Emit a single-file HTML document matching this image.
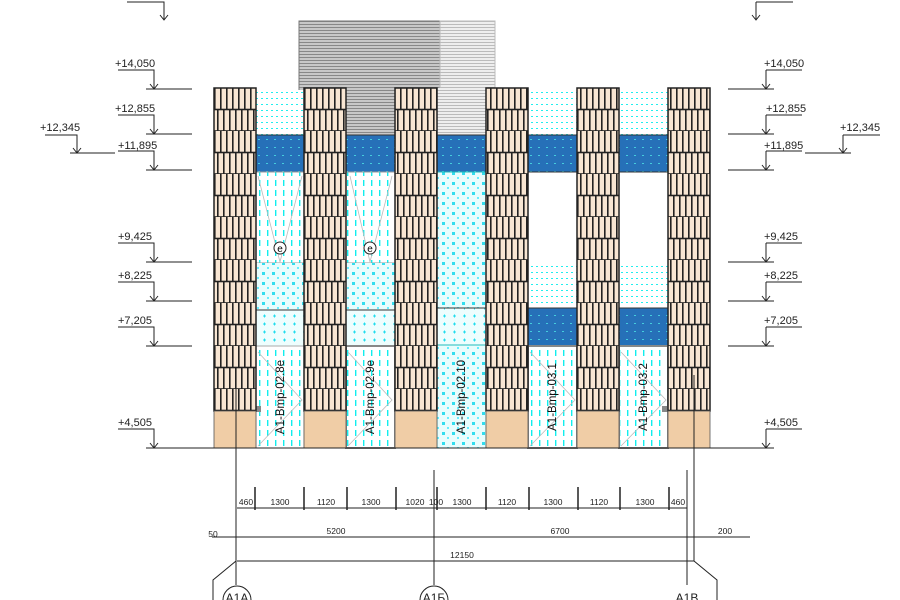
<!DOCTYPE html>
<html><head><meta charset="utf-8"><style>html,body{margin:0;padding:0;background:#fff}svg{display:block}text{font-family:"Liberation Sans",sans-serif}</style></head><body>
<svg width="900" height="600" viewBox="0 0 900 600" xmlns="http://www.w3.org/2000/svg">
<defs>
<pattern id="brick" width="12" height="43" patternUnits="userSpaceOnUse" x="214" y="88">
<rect width="12" height="43" fill="#f8e6d3"/>
<rect x="0" y="0" width="1.6" height="21.5" fill="#222"/><rect x="6" y="0" width="1.6" height="21.5" fill="#222"/>
<rect x="3" y="21.5" width="1.6" height="21.5" fill="#222"/><rect x="9" y="21.5" width="1.6" height="21.5" fill="#222"/>
<rect x="0" y="20.7" width="12" height="1.6" fill="#222"/><rect x="0" y="42.2" width="12" height="1.6" fill="#222"/>
</pattern>
<pattern id="dots" width="5" height="6" patternUnits="userSpaceOnUse"><rect width="5" height="6" fill="#fff"/><rect x="1" y="2" width="2" height="1" fill="#2ee"/></pattern>
<pattern id="stars" width="10" height="10" patternUnits="userSpaceOnUse"><rect width="10" height="10" fill="#e8fdfd"/><rect x="2" y="2" width="3" height="3" fill="#3de"/><rect x="7" y="7" width="2" height="2" fill="#6ef"/></pattern>
<pattern id="plus" width="10" height="8" patternUnits="userSpaceOnUse"><rect width="10" height="8" fill="#eefefe"/><path d="M3 4h3M4.5 2.5v3" stroke="#2de" stroke-width="1"/></pattern>
<pattern id="dash" width="8" height="10" patternUnits="userSpaceOnUse"><rect width="8" height="10" fill="#fff"/><rect x="3" y="0" width="1.4" height="6" fill="#1ee"/></pattern>
<pattern id="blue" width="8" height="8" patternUnits="userSpaceOnUse"><rect width="8" height="8" fill="#2670b8"/><rect x="2" y="3" width="2" height="1" fill="#4cd"/></pattern>
<pattern id="hatch" width="4" height="3" patternUnits="userSpaceOnUse"><rect width="4" height="3" fill="#c8c8c8"/><rect y="0" width="4" height="1" fill="#888"/></pattern>
<pattern id="hatch2" width="4" height="3" patternUnits="userSpaceOnUse"><rect width="4" height="3" fill="#eee"/><rect y="0" width="4" height="1" fill="#bbb"/></pattern>
</defs>

<rect x="299" y="21" width="141" height="114" fill="url(#hatch)" stroke="#777"/>
<rect x="440" y="21" width="55" height="67" fill="url(#hatch2)" stroke="#bbb"/>

<g stroke="#333" stroke-width="1">
<rect x="256" y="90" width="48" height="45" fill="url(#dots)" stroke="none"/>
<rect x="256" y="135" width="48" height="37" fill="url(#blue)"/>
<rect x="256" y="172" width="48" height="91" fill="url(#dash)" stroke="#999"/>
<rect x="256" y="263" width="48" height="47" fill="url(#stars)" stroke="none"/>
<rect x="256" y="310" width="48" height="36" fill="url(#plus)"/>
<rect x="256" y="346" width="48" height="102" fill="url(#dash)" stroke="#aaa"/>
<rect x="346" y="88" width="49" height="47" fill="url(#hatch)" stroke="none"/>
<rect x="346" y="135" width="49" height="37" fill="url(#blue)"/>
<rect x="346" y="172" width="49" height="91" fill="url(#dash)" stroke="#999"/>
<rect x="346" y="263" width="49" height="47" fill="url(#stars)" stroke="none"/>
<rect x="346" y="310" width="49" height="36" fill="url(#plus)"/>
<rect x="346" y="346" width="49" height="102" fill="url(#dash)" stroke="#888" stroke-width="2"/>
<rect x="437" y="88" width="49" height="47" fill="url(#hatch2)" stroke="none"/>
<rect x="437" y="135" width="49" height="37" fill="url(#blue)"/>
<rect x="437" y="172" width="49" height="136" fill="url(#stars)" stroke="#2bb"/>
<rect x="437" y="308" width="49" height="37" fill="url(#plus)"/>
<rect x="437" y="345" width="49" height="103" fill="url(#stars)" stroke="#2bb"/>
<rect x="528" y="90" width="49" height="45" fill="url(#dots)" stroke="none"/>
<rect x="528" y="135" width="49" height="37" fill="url(#blue)"/>
<rect x="528" y="265" width="49" height="43" fill="url(#dots)" stroke="none"/>
<rect x="528" y="308" width="49" height="38" fill="url(#blue)"/>
<rect x="528" y="346" width="49" height="102" fill="url(#dash)" stroke="#888" stroke-width="2"/>
<rect x="619" y="90" width="49" height="45" fill="url(#dots)" stroke="none"/>
<rect x="619" y="135" width="49" height="37" fill="url(#blue)"/>
<rect x="619" y="265" width="49" height="43" fill="url(#dots)" stroke="none"/>
<rect x="619" y="308" width="49" height="38" fill="url(#blue)"/>
<rect x="619" y="346" width="49" height="102" fill="url(#dash)" stroke="#888" stroke-width="2"/>
</g>
<g stroke="#bbb" fill="none" stroke-width="0.8">
<path d="M258 176L280 262L302 176M350 176L370 262L392 176"/>
<path d="M258 352L302 400L258 446M348 352L392 400L348 446M530 352L575 400L530 446M621 352L666 400L621 446"/>
</g>
<g fill="#fff" stroke="#222"><circle cx="280" cy="248" r="6"/><circle cx="370" cy="248" r="6"/></g>
<g font-size="10" text-anchor="middle"><text x="280" y="252">e</text><text x="370" y="252">e</text></g>
<g font-size="11.5" fill="#111">
<text transform="translate(284,397) rotate(-90)" text-anchor="middle">A1-Bmp-02.8e</text>
<text transform="translate(374,397) rotate(-90)" text-anchor="middle">A1-Bmp-02.9e</text>
<text transform="translate(465,397) rotate(-90)" text-anchor="middle">A1-Bmp-02.10</text>
<text transform="translate(556,397) rotate(-90)" text-anchor="middle">A1-Bmp-03.1</text>
<text transform="translate(647,397) rotate(-90)" text-anchor="middle">A1-Bmp-03.2</text>
</g>
<rect x="256" y="406" width="5" height="6" fill="#888"/><rect x="662" y="406" width="5" height="6" fill="#888"/>

<g stroke="#222" stroke-width="1.5">
<rect x="214" y="88" width="42" height="323" fill="url(#brick)"/>
<rect x="304" y="88" width="42" height="323" fill="url(#brick)"/>
<rect x="395" y="88" width="42" height="323" fill="url(#brick)"/>
<rect x="486" y="88" width="42" height="323" fill="url(#brick)"/>
<rect x="577" y="88" width="42" height="323" fill="url(#brick)"/>
<rect x="668" y="88" width="42" height="323" fill="url(#brick)"/>
</g>
<g fill="#f0cda6" stroke="#555" stroke-width="0.8">
<rect x="214" y="411" width="42" height="37"/><rect x="304" y="411" width="42" height="37"/><rect x="395" y="411" width="42" height="37"/>
<rect x="486" y="411" width="42" height="37"/><rect x="577" y="411" width="42" height="37"/><rect x="668" y="411" width="42" height="37"/>
</g>

<g stroke="#222" stroke-width="1" fill="none">
<path d="M146 89h46M118 70h36v19M150 84l4 5l4-5"/>
<path d="M146 134h46M118 115h36v19M150 129l4 5l4-5"/>
<path d="M146 170h46M118 151h36v19M150 165l4 5l4-5"/>
<path d="M146 262h46M118 243h36v19M150 257l4 5l4-5"/>
<path d="M146 301h46M118 282h36v19M150 296l4 5l4-5"/>
<path d="M146 346h46M118 327h36v19M150 341l4 5l4-5"/>
<path d="M146 448h616M118 429h36v19M150 443l4 5l4-5"/>
<path d="M70 153h45M45 135h32v18M73 148l4 5l4-5"/>
<path d="M728 89h46M766 70h36M766 70v19M762 84l4 5l4-5"/>
<path d="M728 134h46M766 115h36M766 115v19M762 129l4 5l4-5"/>
<path d="M728 170h46M766 151h36M766 151v19M762 165l4 5l4-5"/>
<path d="M728 262h46M766 243h36M766 243v19M762 257l4 5l4-5"/>
<path d="M728 301h46M766 282h36M766 282v19M762 296l4 5l4-5"/>
<path d="M728 346h46M766 327h36M766 327v19M762 341l4 5l4-5"/>
<path d="M728 448h46M766 429h36M766 429v19M762 443l4 5l4-5"/>
<path d="M805 153h46M843 135h37M843 135v18M839 148l4 5l4-5"/>
<path d="M127 2h37v18M160 15l4 5l4-5M756 2h37M756 2v18M752 15l4 5l4-5"/>
</g>
<g font-size="11" fill="#222">
<text x="115" y="67">+14,050</text><text x="115" y="112">+12,855</text><text x="118" y="149">+11,895</text>
<text x="118" y="240">+9,425</text><text x="118" y="279">+8,225</text><text x="118" y="324">+7,205</text><text x="118" y="426">+4,505</text>
<text x="40" y="131">+12,345</text>
<text x="764" y="67">+14,050</text><text x="766" y="112">+12,855</text><text x="764" y="149">+11,895</text>
<text x="764" y="240">+9,425</text><text x="764" y="279">+8,225</text><text x="764" y="324">+7,205</text><text x="764" y="426">+4,505</text>
<text x="840" y="131">+12,345</text>
</g>

<g stroke="#222" stroke-width="1" fill="none">
<path d="M236 370V585M434 470V585M687 470V585M694 375V561"/>
<path d="M237 508H687M212 537H750M237 561H694"/>
<path d="M236 561L213 580V600M694 561L717 580V600"/>
<path d="M255 487v23M304 487v23M347 487v23M396 487v23M437 487v23M486 487v23M529 487v23M578 487v23M620 487v23M669 487v23" stroke-width="1.5"/>
<circle cx="237" cy="600" r="14"/><circle cx="434" cy="600" r="14"/>
</g>
<g font-size="8.5" fill="#222" text-anchor="middle">
<text x="246" y="505">460</text><text x="280" y="505">1300</text><text x="326" y="505">1120</text><text x="371" y="505">1300</text>
<text x="415" y="505">1020</text><text x="436" y="505">100</text><text x="462" y="505">1300</text><text x="507" y="505">1120</text>
<text x="553" y="505">1300</text><text x="599" y="505">1120</text><text x="645" y="505">1300</text><text x="678" y="505">460</text>
<text x="336" y="534">5200</text><text x="560" y="534">6700</text><text x="213" y="537">50</text><text x="725" y="534">200</text>
<text x="462" y="558">12150</text>
</g>
<g font-size="12" fill="#222" text-anchor="middle"><text x="237" y="602">A1A</text><text x="434" y="602">A1Б</text><text x="687" y="602">A1B</text></g>
</svg>
</body></html>
